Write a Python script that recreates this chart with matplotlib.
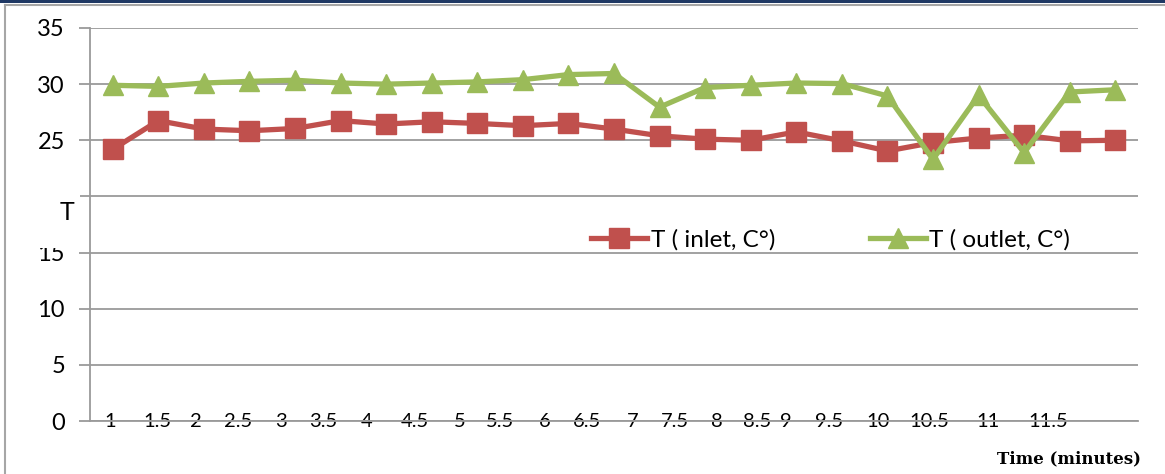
import matplotlib.pyplot as plt
import numpy as np
from matplotlib.patches import Rectangle
from matplotlib.lines import Line2D

# time labels shown under the axis (12 has no label in the original)
time_labels = ['1', '1.5', '2', '2.5', '3', '3.5', '4', '4.5', '5', '5.5', '6',
               '6.5', '7', '7.5', '8', '8.5', '9', '9.5', '10', '10.5', '11', '11.5']
# where those labels sit, in category units (they drift a bit in the source)
label_pos = [-0.06, 0.99, 1.83, 2.75, 3.69, 4.63, 5.58, 6.63, 7.62, 8.5, 9.49,
             10.4, 11.4, 12.34, 13.26, 14.14, 14.77, 15.72, 16.79, 17.91, 19.21, 20.52]

t_inlet = [24.2, 26.75, 26.0, 25.85, 26.05, 26.75, 26.45, 26.65, 26.5, 26.3, 26.5,
           26.0, 25.4, 25.1, 25.0, 25.75, 24.95, 24.05, 24.8, 25.2, 25.45, 24.95, 25.0]
t_outlet = [29.9, 29.8, 30.1, 30.25, 30.35, 30.1, 30.0, 30.1, 30.2, 30.4, 30.85,
            30.95, 27.95, 29.7, 29.9, 30.1, 30.05, 28.95, 23.3, 29.0, 23.9, 29.3, 29.5]

# y labels; the 20 sits under the "T" box in the source, so it is left blank
y_ticks = [0, 5, 10, 15, 20, 25, 30, 35]
y_labels = ['0', '5', '10', '15', '', '25', '30', '35']

red = '#C0504D'
green = '#9BBB59'
grid_c = '#9a9a9a'

W, H = 1165, 474
fig = plt.figure(figsize=(W / 100, H / 100), dpi=100)
ax = fig.add_axes([90 / W, (H - 421) / H, 1048 / W, 393 / H])

x = np.arange(len(t_inlet))
ax.plot(x, t_inlet, color=red, lw=3.8, marker='s', ms=14, mec=red,
        label='T ( inlet, C°)', zorder=3)
ax.plot(x, t_outlet, color=green, lw=3.8, marker='^', ms=15, mec=green,
        label='T ( outlet, C°)', zorder=4)

ax.set_xlim(-0.5, len(t_inlet) - 0.5)
ax.set_ylim(0, 35)
ax.set_yticks(y_ticks)
ax.set_yticklabels(y_labels, family='Lato', fontsize=17)
ax.yaxis.grid(True, color=grid_c, lw=1.3)
ax.set_axisbelow(True)

ax.set_xticks(label_pos)
ax.set_xticklabels(time_labels, family='Lato', fontsize=14.5)
ax.tick_params(axis='x', length=0, pad=-6)
ax.tick_params(axis='y', length=8, width=1.3, color=grid_c, pad=10)

for s in ['top', 'right']:
    ax.spines[s].set_visible(False)
for s in ['left', 'bottom']:
    ax.spines[s].set_color(grid_c)
    ax.spines[s].set_linewidth(1.3)

leg = ax.legend(loc='center left', bbox_to_anchor=(579 / W, (H - 240) / H),
                bbox_transform=fig.transFigure, ncol=2, frameon=False,
                borderpad=0, handlelength=2.3, handletextpad=0.15,
                columnspacing=3.9, numpoints=1, prop={'family': 'Lato', 'size': 17.5})

# white box clipping the top of the 15 label, with the axis letter on it
fig.add_artist(Rectangle((26 / W, (H - 248) / H), 54 / W, 70 / H,
                         transform=fig.transFigure, facecolor='white',
                         edgecolor='none', zorder=5))
fig.text(67 / W, (H - 212) / H, 'T', family='Lato', fontsize=18,
         ha='center', va='center', zorder=6)

fig.text(1141 / W, (H - 459) / H, 'Time (minutes)', family='DejaVu Serif',
         fontweight='bold', fontsize=12, ha='right', va='center')

# frame of the original slide
fig.add_artist(Rectangle((0, 1 - 2.5 / H), 1, 2.5 / H, transform=fig.transFigure,
                         facecolor='#1F3864', edgecolor='none'))
fig.add_artist(Line2D([5 / W, 1], [1 - 4.5 / H] * 2, transform=fig.transFigure,
                      color='#a6a6a6', lw=1.5))
fig.add_artist(Line2D([5 / W] * 2, [0, 1 - 4.5 / H], transform=fig.transFigure,
                      color='#a6a6a6', lw=1.5))

fig.savefig('out.png', dpi=100)
